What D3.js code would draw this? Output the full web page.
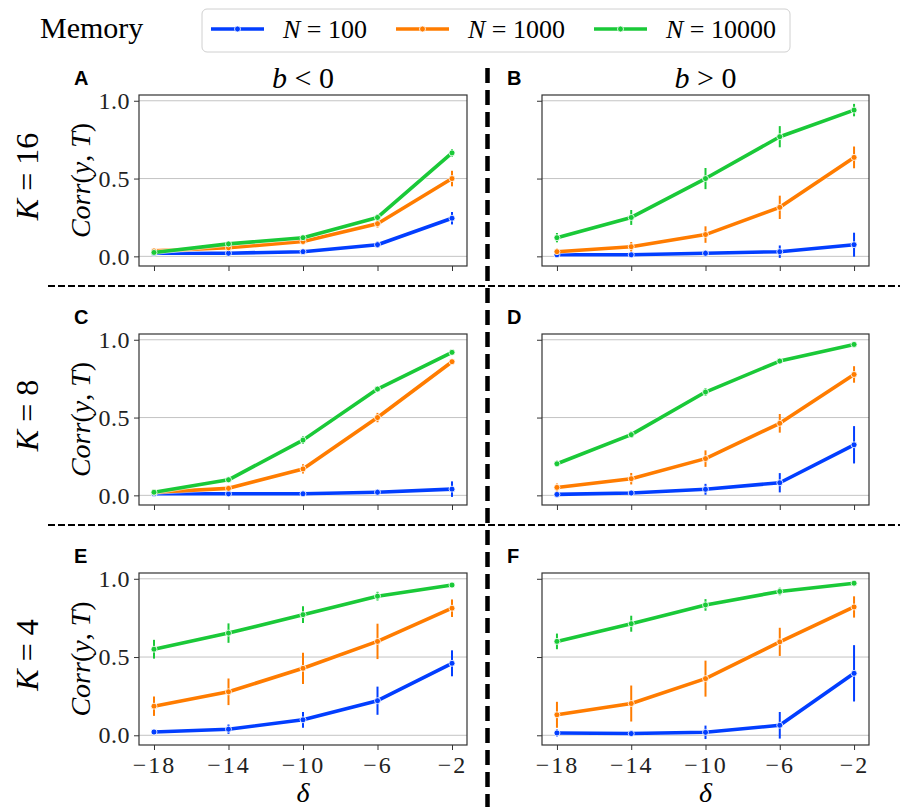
<!DOCTYPE html>
<html><head><meta charset="utf-8">
<script src="https://cdn.jsdelivr.net/npm/d3@7"></script>
<style>body{margin:0;background:#fff}svg{display:block}</style>
</head><body>
<script>
// ---- data ----
const deltas = [-18, -14, -10, -6, -2];
const xTicks = [-18, -14, -10, -6, -2];
const yTicks = [0, 0.5, 1.0];
const seriesN = ["100", "1000", "10000"];
const colors = ["#023eff", "#ff7c00", "#1ac938"];
const kLabels = ["16", "8", "4"];
const bSigns = ["<", ">"];
const panelLetters = ["A", "B", "C", "D", "E", "F"];

// mean values [N=100, N=1000, N=10000]
const meanA = [[0.02,0.02,0.03,0.075,0.245],[0.035,0.055,0.095,0.21,0.50],[0.025,0.08,0.12,0.25,0.665]];
const errA  = [[0.01,0.01,0.012,0.02,0.04],[0.015,0.015,0.02,0.025,0.05],[0.01,0.012,0.015,0.02,0.025]];
const meanB = [[0.01,0.01,0.02,0.03,0.075],[0.03,0.062,0.14,0.315,0.636],[0.12,0.25,0.50,0.769,0.94]];
const errB  = [[0.01,0.01,0.02,0.04,0.077],[0.02,0.03,0.053,0.075,0.07],[0.03,0.048,0.068,0.068,0.04]];
const meanC = [[0.01,0.01,0.01,0.02,0.04],[0.02,0.045,0.17,0.50,0.859],[0.02,0.1,0.355,0.683,0.919]];
const errC  = [[0.01,0.008,0.01,0.02,0.05],[0.02,0.015,0.03,0.03,0.01],[0.015,0.01,0.025,0.01,0.008]];
const meanD = [[0.006,0.015,0.039,0.081,0.325],[0.051,0.107,0.236,0.463,0.777],[0.203,0.39,0.664,0.863,0.97]];
const errD  = [[0.008,0.015,0.035,0.062,0.12],[0.025,0.037,0.053,0.06,0.053],[0.02,0.02,0.025,0.01,0.005]];
const meanE = [[0.021,0.039,0.099,0.221,0.46],[0.186,0.278,0.428,0.60,0.812],[0.55,0.653,0.771,0.889,0.96]];
const errE  = [[0.015,0.03,0.05,0.09,0.083],[0.062,0.085,0.1,0.113,0.056],[0.06,0.062,0.053,0.028,0.008]];
const meanF = [[0.015,0.011,0.019,0.064,0.396],[0.131,0.203,0.362,0.597,0.82],[0.60,0.713,0.833,0.919,0.972]];
const errF  = [[0.023,0.015,0.043,0.085,0.18],[0.083,0.115,0.115,0.09,0.068],[0.05,0.051,0.037,0.024,0.008]];

const panelMeans = [meanA, meanB, meanC, meanD, meanE, meanF];
const panelErrs = [errA, errB, errC, errD, errE, errF];

// ---- layout ----
const W = 900, H = 807;
const serif = "'Liberation Serif', 'Times New Roman', serif";
const sans = "'Liberation Sans', Arial, sans-serif";
const colX = [[139, 467], [542, 869]];
const rowY = [[95, 266], [334, 505], [573, 745]];

const svg = d3.select("body").append("svg").attr("width", W).attr("height", H);

function mathText(sel, parts) {
  parts.forEach(p => {
    sel.append("tspan").attr("font-style", p[1] ? "italic" : "normal").text(p[0]);
  });
}

panelLetters.forEach((letter, i) => {
  const r = Math.floor(i / 2), c = i % 2;
  const [x0, x1] = colX[c], [y0, y1] = rowY[r];
  const x = d3.scaleLinear().domain([-18.805, -1.195]).range([x0, x1]);
  const y = d3.scaleLinear().domain([-0.062, 1.037]).range([y1, y0]);
  const g = svg.append("g");

  // grid
  g.selectAll(".grid").data(yTicks).join("line")
    .attr("x1", x0).attr("x2", x1).attr("y1", d => y(d)).attr("y2", d => y(d))
    .attr("stroke", "#c4c4c4").attr("stroke-width", 1);

  // axes
  const yAxis = d3.axisLeft(y).tickValues(yTicks).tickSize(5).tickPadding(4)
    .tickFormat(c === 0 ? d3.format(".1f") : () => "");
  const ya = g.append("g").attr("transform", `translate(${x0},0)`).call(yAxis);
  ya.select(".domain").remove();
  ya.selectAll("line").attr("stroke", "#333").attr("stroke-width", 1);
  ya.selectAll("text").attr("font-family", serif).attr("font-size", 24).attr("fill", "#222")
    .attr("letter-spacing", 0.5);

  const xAxis = d3.axisBottom(x).tickValues(xTicks).tickSize(5).tickPadding(6)
    .tickFormat(r === 2 ? (d => d < 0 ? "\u2212" + Math.abs(d) : d) : () => "");
  const xa = g.append("g").attr("transform", `translate(0,${y1})`).call(xAxis);
  xa.select(".domain").remove();
  xa.selectAll("line").attr("stroke", "#333").attr("stroke-width", 1);
  xa.selectAll("text").attr("font-family", serif).attr("font-size", 24).attr("fill", "#222")
    .attr("letter-spacing", 2);

  // frame
  g.append("rect").attr("x", x0).attr("y", y0).attr("width", x1 - x0).attr("height", y1 - y0)
    .attr("fill", "none").attr("stroke", "#333").attr("stroke-width", 1.2);

  const means = panelMeans[i], errs = panelErrs[i];
  const line = d3.line().x((d, j) => x(deltas[j])).y(d => y(d));
  means.forEach((series, s) => {
    const sg = g.append("g");
    sg.selectAll(".eb").data(series).join("line")
      .attr("x1", (d, j) => x(deltas[j])).attr("x2", (d, j) => x(deltas[j]))
      .attr("y1", (d, j) => y(d - errs[s][j])).attr("y2", (d, j) => y(d + errs[s][j]))
      .attr("stroke", colors[s]).attr("stroke-width", 2);
    sg.append("path").datum(series).attr("d", line)
      .attr("fill", "none").attr("stroke", "#fff").attr("stroke-opacity", 0.6).attr("stroke-width", 5)
      .attr("stroke-linejoin", "round");
    sg.append("path").datum(series).attr("d", line)
      .attr("fill", "none").attr("stroke", colors[s]).attr("stroke-width", 3.6)
      .attr("stroke-linejoin", "round");
    sg.selectAll(".mk").data(series).join("circle")
      .attr("cx", (d, j) => x(deltas[j])).attr("cy", d => y(d)).attr("r", 3)
      .attr("fill", colors[s]).attr("stroke", "#fff").attr("stroke-width", 0.8);
  });

  // panel letter
  svg.append("text").attr("x", c === 0 ? 74 : 507).attr("y", 85 + r * 239)
    .attr("font-family", sans).attr("font-weight", "bold").attr("font-size", 20).text(letter);

  if (c === 0) {
    const t = svg.append("text")
      .attr("transform", `translate(90,${(y0 + y1) / 2}) rotate(-90)`)
      .attr("text-anchor", "middle").attr("font-family", serif).attr("font-size", 28);
    mathText(t, [["Corr", 1], ["(", 0], ["y", 1], [", ", 0], ["T", 1], [")", 0]]);
    const k = svg.append("text")
      .attr("transform", `translate(38,${(y0 + y1) / 2 - 4}) rotate(-90)`)
      .attr("text-anchor", "middle").attr("font-family", serif).attr("font-size", 32);
    mathText(k, [["K", 1], [" = " + kLabels[r], 0]]);
  }
  if (r === 0) {
    const t = svg.append("text").attr("x", (x0 + x1) / 2).attr("y", 88)
      .attr("text-anchor", "middle").attr("font-family", serif).attr("font-size", 30);
    mathText(t, [["b", 1], [" " + bSigns[c] + " 0", 0]]);
  }
  if (r === 2) {
    svg.append("text").attr("x", (x0 + x1) / 2).attr("y", 802)
      .attr("text-anchor", "middle").attr("font-family", serif).attr("font-style", "italic")
      .attr("font-size", 28).text("\u03b4");
  }
});

// separators
svg.append("line").attr("x1", 487.5).attr("x2", 487.5).attr("y1", 68).attr("y2", H)
  .attr("stroke", "#000").attr("stroke-width", 4.5).attr("stroke-dasharray", "15,7");
[286, 525].forEach(yy => {
  svg.append("line").attr("x1", 48).attr("x2", W).attr("y1", yy).attr("y2", yy)
    .attr("stroke", "#000").attr("stroke-width", 2).attr("stroke-dasharray", "7,3");
});

// title + legend
svg.append("text").attr("x", 40).attr("y", 38).attr("font-family", serif)
  .attr("font-size", 30).text("Memory");
svg.append("rect").attr("x", 202).attr("y", 9).attr("width", 588).attr("height", 43)
  .attr("rx", 5).attr("fill", "#fff").attr("stroke", "#d0d0d0").attr("stroke-width", 1);
const legX = [211, 396, 594];
seriesN.forEach((n, s) => {
  const lg = svg.append("g");
  lg.append("line").attr("x1", legX[s]).attr("x2", legX[s] + 53).attr("y1", 29).attr("y2", 29)
    .attr("stroke", colors[s]).attr("stroke-width", 3.6);
  lg.append("circle").attr("cx", legX[s] + 26.5).attr("cy", 29).attr("r", 3)
    .attr("fill", colors[s]).attr("stroke", "#fff").attr("stroke-width", 0.8);
  const t = lg.append("text").attr("x", legX[s] + 72).attr("y", 38)
    .attr("font-family", serif).attr("font-size", 26);
  mathText(t, [["N", 1], [" = " + n, 0]]);
});
</script>
</body></html>
